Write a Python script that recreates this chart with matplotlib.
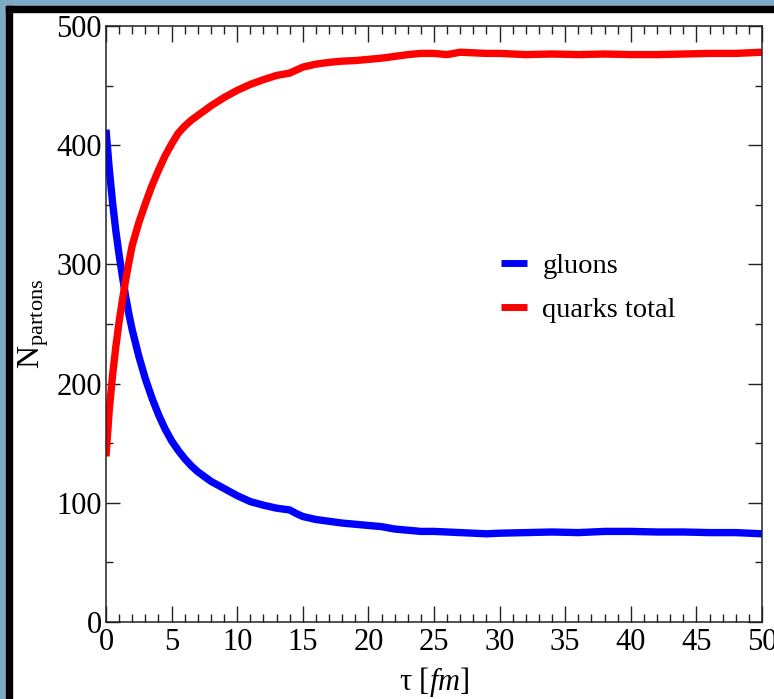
import matplotlib
matplotlib.use("Agg")
import matplotlib.pyplot as plt
from matplotlib.patches import Rectangle
from matplotlib.ticker import MultipleLocator

# Zeit in fm
tau = [0, 0.25, 0.5, 0.75, 1.0, 1.25, 1.5, 1.75, 2, 2.5, 3, 3.5, 4, 4.5, 5,
       5.5, 6, 6.5, 7, 7.5, 8, 9, 10, 11, 12, 13, 14, 14.5, 15, 16, 17, 18,
       19, 20, 21, 22, 23, 24, 25, 26, 27, 28, 29, 30, 32, 34, 36, 38, 40,
       42, 44, 46, 48, 50]

gluons = [413, 380, 352, 328, 308, 290, 273, 258, 245, 223, 204, 188, 174,
          162, 152, 144, 137, 131, 126, 122, 118, 112, 106, 101, 98, 95.5,
          94, 91, 88.5, 86, 84.5, 83, 82, 81, 80, 78, 77, 76, 76, 75.5, 75,
          74.5, 74, 74.5, 75, 75.5, 75, 76, 76, 75.5, 75.5, 75, 75, 74]

quarks = [139, 178, 207, 231, 252, 270, 287, 302, 316, 335, 351, 366, 379,
          391, 401, 410, 416, 421, 425, 429, 433, 440, 446, 451, 455, 458.5,
          460.5, 463, 465.5, 468, 469.5, 470.5, 471, 472, 473, 474.5, 476,
          477, 477, 476, 478, 477.5, 477, 477, 476, 476.5, 476, 476.5, 476,
          476, 476.5, 477, 477, 478]

plt.rcParams['font.family'] = ['Liberation Serif', 'DejaVu Serif']
plt.rcParams['mathtext.fontset'] = 'custom'
plt.rcParams['mathtext.rm'] = 'Liberation Serif'
plt.rcParams['mathtext.it'] = 'Liberation Serif:italic'

fig = plt.figure(figsize=(7.74, 6.99), dpi=100)

# Rahmen oben und links
W, H = 774, 699
fig.patches.append(Rectangle((0, 0), 6 / W, 1, transform=fig.transFigure,
                             color='#7eaac6', zorder=0))
fig.patches.append(Rectangle((0, 1 - 6 / H), 1, 6 / H, transform=fig.transFigure,
                             color='#7eaac6', zorder=0))
fig.patches.append(Rectangle((6 / W, 0), 6 / W, 1 - 6 / H, transform=fig.transFigure,
                             color='black', zorder=0))
fig.patches.append(Rectangle((6 / W, 1 - 12 / H), 1 - 6 / W, 6 / H,
                             transform=fig.transFigure, color='black', zorder=0))

ax = fig.add_axes([106 / W, 1 - 622 / H, 656 / W, 596 / H])

ax.plot(tau, gluons, color='#0000ff', lw=5.3, label='gluons', solid_capstyle='butt')
ax.plot(tau, quarks, color='#ff0000', lw=5.3, label='quarks total', solid_capstyle='butt')

ax.set_xlim(0, 50)
ax.set_ylim(0, 500)
ax.xaxis.set_major_locator(MultipleLocator(5))
ax.xaxis.set_minor_locator(MultipleLocator(1))
ax.yaxis.set_major_locator(MultipleLocator(100))
ax.yaxis.set_minor_locator(MultipleLocator(50))

ax.tick_params(which='both', direction='in', top=True, right=True,
               labelsize=22, width=1.0, color='#222222')
ax.tick_params(which='major', length=11.5, pad=4)
ax.tick_params(which='minor', length=6)
ax.tick_params(axis='y', which='major', length=10, pad=3)
ax.tick_params(axis='y', which='minor', length=5)

for s in ax.spines.values():
    s.set_linewidth(1.1)
    s.set_color('#222222')

ax.set_xlabel(r'τ $\mathit{[fm]}$', fontsize=22, labelpad=6)
ax.set_ylabel(r'N$_{\rm partons}$', fontsize=23, labelpad=4)

leg = ax.legend(loc='upper left', bbox_to_anchor=(0.585, 0.638), frameon=False,
                fontsize=20.5, handlelength=0.9, handletextpad=0.55,
                labelspacing=0.62, borderaxespad=0)
for l in leg.get_lines():
    l.set_linewidth(5)

fig.savefig('out.png', dpi=100)
